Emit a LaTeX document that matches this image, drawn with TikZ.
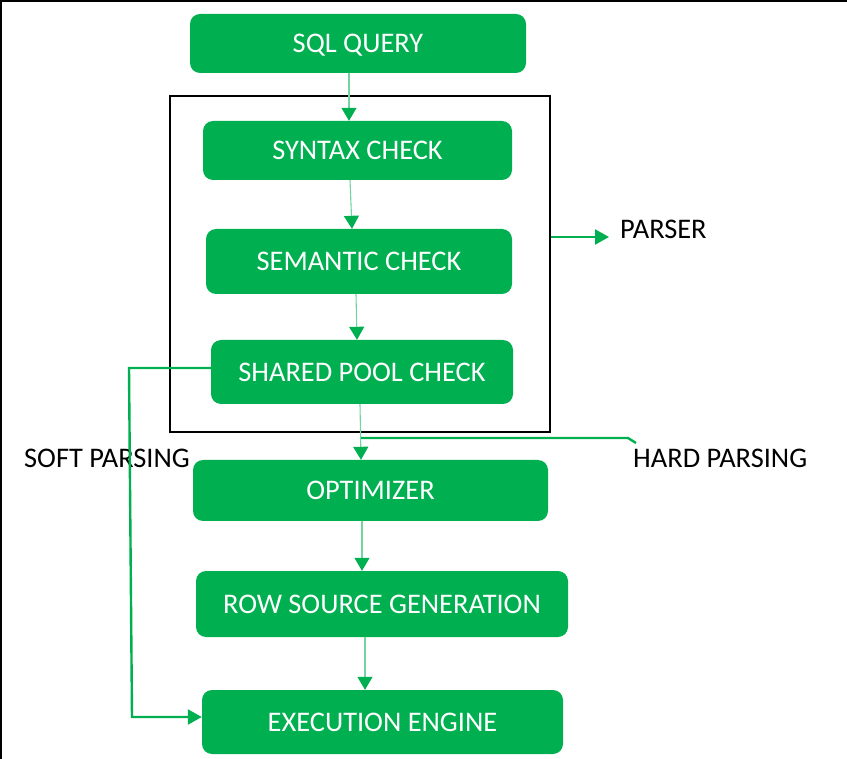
\documentclass[tikz,border=0pt]{standalone}
\usepackage{fontspec}
\setmainfont{Carlito}
\usetikzlibrary{arrows.meta}
\definecolor{ggreen}{HTML}{00B050}
\begin{document}
\begin{tikzpicture}[x=1pt,y=-1pt,
  box/.style={rectangle, rounded corners=10pt, fill=ggreen, text=white, inner sep=0pt,
    text height=18.3pt, text depth=0pt, font=\fontsize{28.4}{31}\selectfont},
  lbl/.style={font=\fontsize{28.4}{31}\selectfont, text=black, inner sep=0pt},
  thinarrow/.style={draw=ggreen!55, line width=1.1pt, -{Triangle[width=15pt,length=13pt,color=ggreen]}},
  thickline/.style={draw=ggreen, line width=2.4pt},
  thickarrow/.style={thickline, -{Triangle[width=15pt,length=14pt]}},
  frame/.style={draw=black, line width=2pt}
]
\useasboundingbox (0,0) rectangle (847,759);
% outer border (top and left)
\draw[line width=2.5pt] (0,1) -- (847,1);
\draw[line width=2pt] (0.8,0) -- (0.8,759);

% parser frame
\node[frame, minimum width=380pt, minimum height=336pt, inner sep=0pt] (parser) at (360,264) {};

\node[box, minimum width=336pt, minimum height=59pt] (sql) at (358,43.5) {SQL QUERY};
\node[box, minimum width=309pt, minimum height=59pt] (syn) at (357.5,150.5) {SYNTAX CHECK};
\node[box, minimum width=306pt, minimum height=65pt] (sem) at (359,261.5) {SEMANTIC CHECK};
\node[box, minimum width=302pt, minimum height=64pt] (spc) at (362,372) {SHARED POOL CHECK};
\node[box, minimum width=355pt, minimum height=61pt] (opt) at (370.5,490.5) {OPTIMIZER};
\node[box, minimum width=372pt, minimum height=66pt] (rsg) at (382,604) {ROW SOURCE GENERATION};
\node[box, minimum width=361pt, minimum height=64pt] (exe) at (382.5,722) {EXECUTION ENGINE};

\node[lbl, anchor=west] (parserlbl) at (620,229) {PARSER};
\node[lbl, anchor=west] (soft) at (24,458) {SOFT PARSING};
\node[lbl, anchor=west] (hard) at (633,458) {HARD PARSING};

% main flow
\draw[thinarrow] (sql.south -| 349,0) -- (syn.north -| 349,0);
\draw[thinarrow] (syn.south -| 350,0) -- (sem.north -| 352,0);
\draw[thinarrow] (sem.south -| 356,0) -- (spc.north -| 357,0);
\draw[thinarrow] (spc.south -| 360,0) -- (opt.north -| 361,0);
\draw[thinarrow] (opt.south -| 362,0) -- (rsg.north -| 362,0);
\draw[thinarrow] (rsg.south -| 365,0) -- (exe.north -| 365,0);

% parser arrow
\draw[thickarrow] (parser.east |- 0,237) -- (609,237);

% hard parsing
\coordinate (hp) at (361,438);
\draw[thickline] (hp) -- (628,438) -- (636,443);

% soft parsing
\draw[thickarrow] ([yshift=4pt]spc.west) -- (129,368) -- (132,717) -- ([yshift=5pt]exe.west);
\end{tikzpicture}
\end{document}
